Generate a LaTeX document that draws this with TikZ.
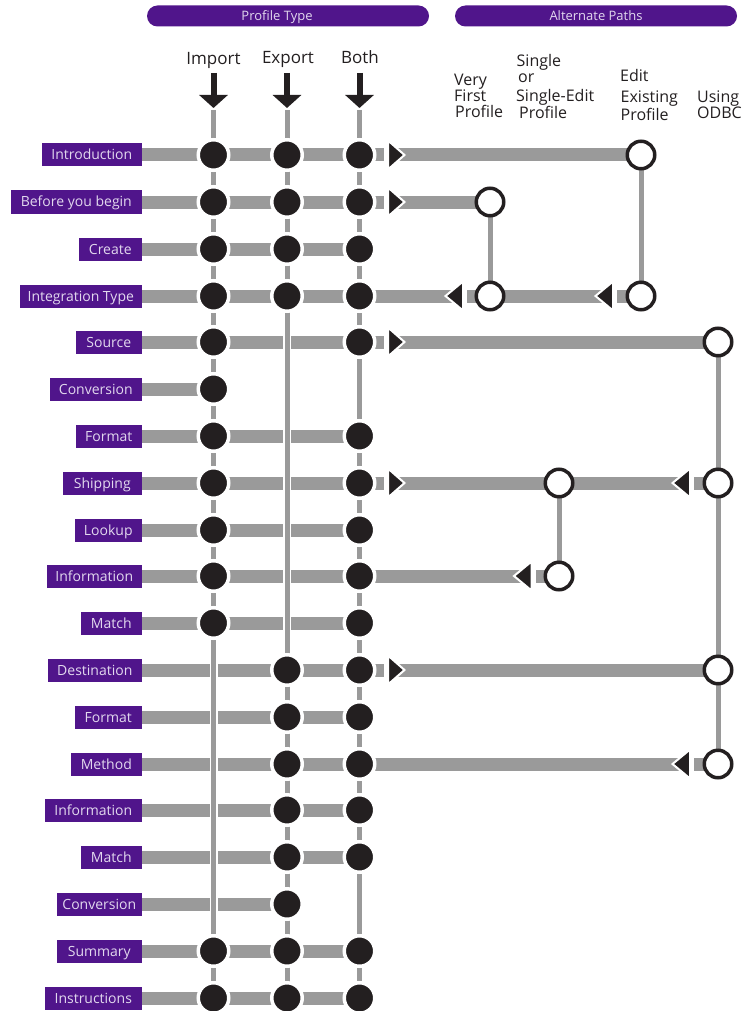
\documentclass[tikz,border=0pt]{standalone}
\usepackage{fontspec}
\setmainfont{Open Sans}
\usetikzlibrary{arrows.meta}
\definecolor{purp}{HTML}{50158B}
\definecolor{lav}{HTML}{E2D8EE}
\definecolor{blk}{HTML}{231F20}
\definecolor{gry}{HTML}{9A9A9A}
\pgfdeclarelayer{bars}
\pgfdeclarelayer{tips}
\pgfdeclarelayer{verts}
\pgfsetlayers{bars,tips,verts,main}
\begin{document}
\begin{tikzpicture}[x=1pt,y=-1pt,
 lab/.style={fill=purp,text=lav,font=\fontsize{14}{14}\selectfont,minimum height=23,inner sep=0,text height=10,text depth=0,anchor=east},
 pill/.style={fill=purp,text=lav,rounded corners=10.5,minimum height=21,minimum width=282,inner sep=0,text height=9.5,text depth=0,font=\fontsize{13}{14}\selectfont},
 dot/.style={circle,fill=blk,draw=white,line width=3.5,minimum size=30.5,inner sep=0,outer sep=0},
 ring/.style={circle,fill=white,draw=blk,line width=3.5,minimum size=27.5,inner sep=0,outer sep=0},
 bar/.style={gry,line width=13},
 vline/.style={gry,line width=5},
 vcase/.style={white,line width=8},
 downarrow/.style={blk,line width=6,-{Triangle[width=28pt,length=13pt]}},
 head/.style={font=\fontsize{17}{17}\selectfont,text=blk,anchor=base,inner sep=0},
 alt/.style={font=\fontsize{16}{16}\selectfont,text=blk,anchor=base west,inner sep=0},
 rtri/.pic={\fill[white] (-4,-7) rectangle (0.5,7);
   \filldraw[fill=blk,draw=white,line width=2,line join=miter] (0,-14.5) -- (16.5,0) -- (0,14.5) -- cycle;},
 ltri/.pic={\fill[white] (-0.5,-7) rectangle (4,7);
   \filldraw[fill=blk,draw=white,line width=2,line join=miter] (0,-14.5) -- (-17.5,0) -- (0,14.5) -- cycle;},
]
\useasboundingbox (0,0) rectangle (748,1011);
\begin{pgfonlayer}{bars}
\fill[white] (0,0) rectangle (748,1011);
\end{pgfonlayer}

% ---------- header ----------
\node[pill] (pt) at (288,16) {Profile Type\hspace*{22pt}};
\node[pill] (ap) at (596,16) {Alternate Paths};
\node[head] (hI) at (213.5,65) {Import};
\node[head] (hE) at (288,64) {Export};
\node[head] (hB) at (360,63.5) {Both};
\coordinate (aI) at (213.5,73); \coordinate (tI) at (213.5,108);
\coordinate (aE) at (287,73);   \coordinate (tE) at (287,108);
\coordinate (aB) at (359.5,73); \coordinate (tB) at (359.5,108);
\draw[downarrow] (aI) -- (tI);
\draw[downarrow] (aE) -- (tE);
\draw[downarrow] (aB) -- (tB);
\coordinate (vI) at (213.5,110);
\coordinate (vE) at (287,110);
\coordinate (vB) at (359.5,110);

\node[alt] (vf1) at (454,86) {Very};
\node[alt] (vf2) at (454,102) {First};
\node[alt] (vf3) at (455,118) {Profile};
\node[alt] (sg1) at (516.5,67) {Single};
\node[alt] (sg2) at (518,83) {or};
\node[alt] (sg3) at (516,102) {Single-Edit};
\node[alt] (sg4) at (519,119) {Profile};
\node[alt] (ed1) at (620,82) {Edit};
\node[alt] (ed2) at (620.5,103) {Existing};
\node[alt] (ed3) at (620.5,121) {Profile};
\node[alt] (od1) at (697,103) {Using};
\node[alt] (od2) at (697,119) {ODBC};

% ---------- labels ----------
\node[lab,minimum width=100] (L1)  at (142,155) {Introduction};
\node[lab,minimum width=131] (L2)  at (142,202) {Before you begin};
\node[lab,minimum width=63]  (L3)  at (142,249) {Create};
\node[lab,minimum width=122] (L4)  at (142,296) {Integration Type};
\node[lab,minimum width=66]  (L5)  at (142,342) {Source};
\node[lab,minimum width=92]  (L6)  at (142,389) {Conversion};
\node[lab,minimum width=66]  (L7)  at (142,436) {Format};
\node[lab,minimum width=79]  (L8)  at (142,483) {Shipping};
\node[lab,minimum width=67]  (L9)  at (142,530) {Lookup};
\node[lab,minimum width=95]  (L10) at (142,576) {Information};
\node[lab,minimum width=61]  (L11) at (142,623) {Match};
\node[lab,minimum width=94]  (L12) at (142,670) {Destination};
\node[lab,minimum width=67]  (L13) at (142,717) {Format};
\node[lab,minimum width=71]  (L14) at (142,764) {Method};
\node[lab,minimum width=97]  (L15) at (142,810) {Information};
\node[lab,minimum width=61]  (L16) at (142,857) {Match};
\node[lab,minimum width=85]  (L17) at (142,904) {Conversion};
\node[lab,minimum width=85]  (L18) at (142,951) {Summary};
\node[lab,minimum width=97]  (L19) at (142,998) {Instructions};

% ---------- dots ----------
\foreach \r/\yy in {1/155,2/202,3/249,4/296,18/951,19/998}{
  \node[dot] (I\r) at (213.5,\yy) {};
  \node[dot] (E\r) at (287,\yy) {};
  \node[dot] (B\r) at (359.5,\yy) {};
}
\foreach \r/\yy in {5/342,7/436,8/483,9/530,10/576,11/623}{
  \node[dot] (I\r) at (213.5,\yy) {};
  \node[dot] (B\r) at (359.5,\yy) {};
}
\node[dot] (I6) at (213.5,389) {};
\foreach \r/\yy in {12/670,13/717,14/764,15/810,16/857}{
  \node[dot] (E\r) at (287,\yy) {};
  \node[dot] (B\r) at (359.5,\yy) {};
}
\node[dot] (E17) at (287,904) {};

% ---------- rings ----------
\node[ring] (R1) at (641,155) {};
\node[ring] (R4) at (641,296) {};
\node[ring] (V2) at (490,202) {};
\node[ring] (V4) at (490,296) {};
\node[ring] (O5) at (718,342) {};
\node[ring] (O8) at (718,483) {};
\node[ring] (O12) at (718,670) {};
\node[ring] (O14) at (718,764) {};
\node[ring] (S8) at (559,483) {};
\node[ring] (S10) at (559,576) {};

% ---------- bars ----------
\begin{pgfonlayer}{bars}
\draw[bar] (L1.east) -- (R1);
\draw[bar] (L2.east) -- (V2);
\draw[bar] (L3.east) -- (B3);
\draw[bar] (L4.east) -- (R4);
\draw[bar] (L5.east) -- (O5);
\draw[bar] (L6.east) -- (I6);
\draw[bar] (L7.east) -- (B7);
\draw[bar] (L8.east) -- (O8);
\draw[bar] (L9.east) -- (B9);
\draw[bar] (L10.east) -- (S10);
\draw[bar] (L11.east) -- (B11);
\draw[bar] (L12.east) -- (O12);
\draw[bar] (L13.east) -- (B13);
\draw[bar] (L14.east) -- (O14);
\draw[bar] (L15.east) -- (B15);
\draw[bar] (L16.east) -- (B16);
\draw[bar] (L17.east) -- (E17);
\draw[bar] (L18.east) -- (B18);
\draw[bar] (L19.east) -- (B19);
\end{pgfonlayer}

% ---------- arrowheads on bars ----------
\begin{pgfonlayer}{tips}
\foreach \yy in {155,202,342,483,670} \pic at (388,\yy) {rtri};
\pic at (463,296) {ltri};
\pic at (613,296) {ltri};
\pic at (690,483) {ltri};
\pic at (531.5,576) {ltri};
\pic at (690,764) {ltri};
\end{pgfonlayer}

% ---------- vertical lines ----------
\begin{pgfonlayer}{verts}
\draw[vcase] (vI) -- (I19); \draw[vline] (vI) -- (I19);
\draw[vcase] (vE) -- (E19); \draw[vline] (vE) -- (E19);
\draw[vcase] (vB) -- (B19); \draw[vline] (vB) -- (B19);
\draw[vline] (R1) -- (R4);
\draw[vline] (V2) -- (V4);
\draw[vline] (S8) -- (S10);
\draw[vline] (O5) -- (O14);
\end{pgfonlayer}
\end{tikzpicture}
\end{document}
